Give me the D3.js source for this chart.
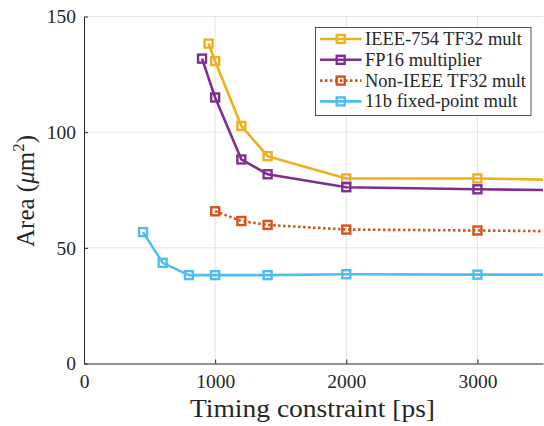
<!DOCTYPE html>
<meta charset="utf-8">
<style>
body { margin: 0; background: #fff; }
svg { display: block; font-family: "Liberation Serif", "DejaVu Serif", serif; }
.grid line { stroke: #e3e3e3; stroke-width: 1; }
.axis path, .axis line { stroke: #262626; }
.axis text { fill: #262626; font-size: 19.5px; font-family: "Liberation Serif", serif; }
</style>
<svg width="544" height="426"></svg>
<script src="https://cdn.jsdelivr.net/npm/d3@7"></script>
<script>

// timing constraint (ps) and area (um^2) per design; last point lies past the axis edge
var tf32X = [950, 1000, 1200, 1400, 2000, 3000, 4000];
var tf32Y = [138.3, 130.7, 102.7, 89.6, 80.0, 80.0, 79.0];
var fp16X = [900, 1000, 1200, 1400, 2000, 3000, 4000];
var fp16Y = [131.8, 115.0, 88.2, 81.8, 76.2, 75.3, 74.7];
var nonIeeeX = [1000, 1200, 1400, 2000, 3000, 4000];
var nonIeeeY = [65.8, 61.6, 59.9, 57.9, 57.5, 56.9];
var fixedX = [450, 600, 800, 1000, 1400, 2000, 3000, 4000];
var fixedY = [56.8, 43.5, 38.2, 38.2, 38.2, 38.6, 38.4, 38.4];

var seriesNames = ["IEEE-754 TF32 mult", "FP16 multiplier", "Non-IEEE TF32 mult", "11b fixed-point mult"];
var xTicks = [0, 1000, 2000, 3000];
var yTicks = [0, 50, 100, 150];

var colors = ["#EDB120", "#7E2F8E", "#D95319", "#4DBEEE"];
var dashes = [null, null, "2.5,2.5", null];

var series = [
  d3.zip(tf32X, tf32Y),
  d3.zip(fp16X, fp16Y),
  d3.zip(nonIeeeX, nonIeeeY),
  d3.zip(fixedX, fixedY)
];

var svg = d3.select("svg");
var mLeft = 84, mRight = 543, mTop = 16.5, mBottom = 363.5;
var ms = 8; // marker side

var x = d3.scaleLinear().domain([0, 3500]).range([mLeft, mRight]);
var y = d3.scaleLinear().domain([0, 150]).range([mBottom, mTop]);

svg.append("defs").append("clipPath").attr("id", "plotclip")
  .append("rect").attr("x", mLeft).attr("y", mTop - 10).attr("width", mRight - mLeft).attr("height", mBottom - mTop + 10);

// grid
var grid = svg.append("g").attr("class", "grid");
grid.selectAll(".gx").data(xTicks.slice(1)).enter().append("line")
  .attr("x1", d => x(d)).attr("x2", d => x(d)).attr("y1", mTop).attr("y2", mBottom);
grid.selectAll(".gy").data(yTicks.slice(1)).enter().append("line")
  .attr("x1", mLeft).attr("x2", mRight).attr("y1", d => y(d)).attr("y2", d => y(d));

// axes, ticks pointing inward
var xAxis = svg.append("g").attr("class", "axis").attr("transform", "translate(0," + mBottom + ")")
  .call(d3.axisBottom(x).tickValues(xTicks).tickFormat(d3.format("d")).tickSizeInner(-4).tickSizeOuter(0).tickPadding(9));
xAxis.selectAll("text").attr("dy", "0.82em");
var yAxis = svg.append("g").attr("class", "axis").attr("transform", "translate(" + mLeft + ",0)")
  .call(d3.axisLeft(y).tickValues(yTicks).tickFormat(d3.format("d")).tickSizeInner(-4).tickSizeOuter(0).tickPadding(8));

svg.append("text").attr("x", (mLeft + mRight) / 2 - 1).attr("y", 417)
  .attr("text-anchor", "middle").attr("font-size", 25).attr("fill", "#262626")
  .attr("textLength", 245).attr("lengthAdjust", "spacingAndGlyphs")
  .text("Timing constraint [ps]");

var ylab = svg.append("text").attr("transform", "translate(34,191) rotate(-90)")
  .attr("text-anchor", "middle").attr("font-size", 25).attr("fill", "#262626");
ylab.append("tspan").text("Area (");
ylab.append("tspan").attr("font-style", "italic").text("\u03bc");
ylab.append("tspan").text("m");
ylab.append("tspan").attr("font-size", 17).attr("dy", -10).text("2");
ylab.append("tspan").attr("dy", 10).text(")");

// series
var line = d3.line().x(d => x(d[0])).y(d => y(d[1]));
var plot = svg.append("g").attr("clip-path", "url(#plotclip)");
series.forEach(function(s, i) {
  plot.append("path").datum(s).attr("d", line)
    .attr("fill", "none").attr("stroke", colors[i]).attr("stroke-width", 2.6)
    .attr("stroke-dasharray", dashes[i]).attr("stroke-linejoin", "round");
  plot.selectAll(".m" + i).data(s).enter().append("rect")
    .attr("x", d => x(d[0]) - ms / 2).attr("y", d => y(d[1]) - ms / 2)
    .attr("width", ms).attr("height", ms)
    .attr("fill", "none").attr("stroke", colors[i]).attr("stroke-width", 2.4);
});

// legend
var lg = svg.append("g");
lg.append("rect").attr("x", 315.5).attr("y", 27.5).attr("width", 215.5).attr("height", 88)
  .attr("fill", "#fff").attr("stroke", "#262626").attr("stroke-width", 0.8);
seriesNames.forEach(function(name, i) {
  var yy = 39 + i * 20.8;
  lg.append("line").attr("x1", 320).attr("x2", 361.5).attr("y1", yy).attr("y2", yy)
    .attr("stroke", colors[i]).attr("stroke-width", 2.6).attr("stroke-dasharray", dashes[i]);
  lg.append("rect").attr("x", 340.7 - ms / 2).attr("y", yy - ms / 2).attr("width", ms).attr("height", ms)
    .attr("fill", "none").attr("stroke", colors[i]).attr("stroke-width", 2.4);
  lg.append("text").attr("x", 365).attr("y", yy + 6).attr("font-size", 18.5).attr("fill", "#262626")
    .text(name);
});

</script>
